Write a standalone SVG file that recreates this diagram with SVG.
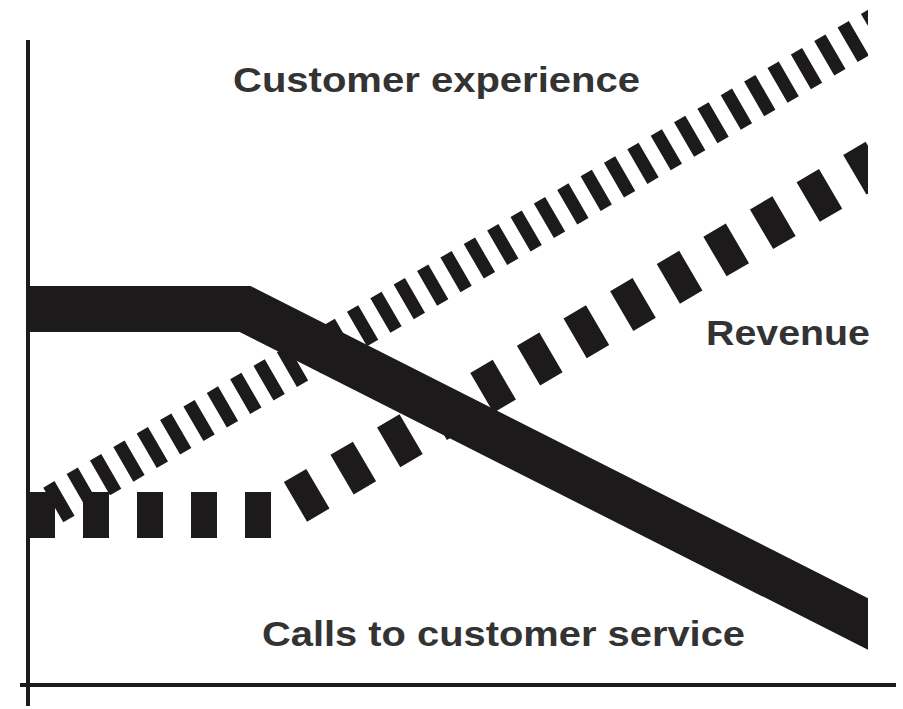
<svg xmlns="http://www.w3.org/2000/svg" width="903" height="709" viewBox="0 0 903 709">
<style>
.lbl{font-family:"Liberation Sans",Arial,sans-serif;font-weight:bold;font-size:35px;fill:#333}
.ln{fill:none;stroke:#1c1a1b}
</style>
<defs><clipPath id="c"><rect x="28" y="0" width="840" height="709"/></clipPath></defs>
<rect width="903" height="709" fill="#fff"/>
<g id="connectors" clip-path="url(#c)">
<path id="customer-experience-line" class="ln" d="M10 530 L880 26" stroke-width="40" stroke-dasharray="13 14" stroke-dashoffset="4"/>
<path id="calls-line" class="ln" d="M20 309 L245 309 L880 630" stroke-width="46"/>
<path id="revenue-line" class="ln" d="M2 515 L273 515 L880 160" stroke-width="46" stroke-dasharray="26 28" stroke-dashoffset="27"/>
</g>
<g id="axes" stroke="#1c1a1b" stroke-width="4">
<line x1="28" y1="40" x2="28" y2="706"/>
<line x1="20" y1="685" x2="896" y2="685"/>
</g>
<g id="label-customer-experience"><text class="lbl" x="233" y="92" textLength="407" lengthAdjust="spacingAndGlyphs">Customer experience</text></g>
<g id="label-revenue"><text class="lbl" x="706" y="345" textLength="164" lengthAdjust="spacingAndGlyphs">Revenue</text></g>
<g id="label-calls"><text class="lbl" x="262" y="646" textLength="483" lengthAdjust="spacingAndGlyphs">Calls to customer service</text></g>
</svg>
